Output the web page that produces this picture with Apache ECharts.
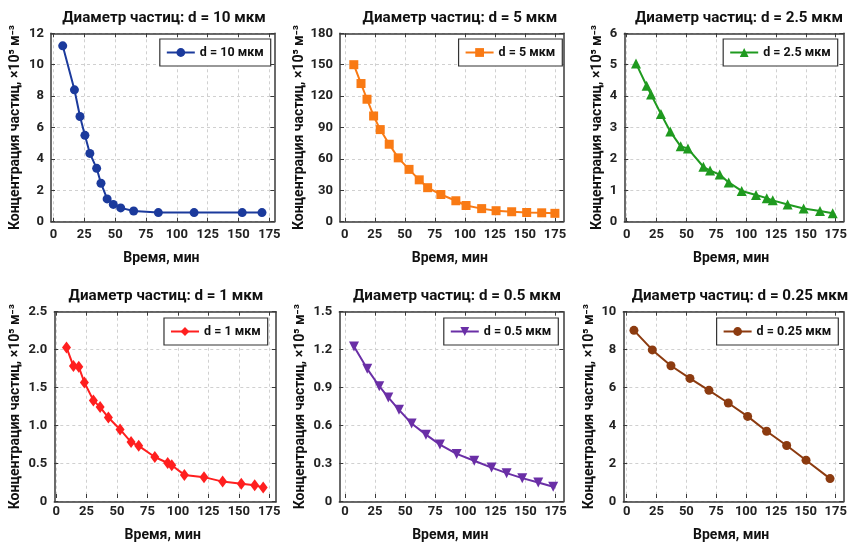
<!DOCTYPE html>
<html><head><meta charset="utf-8">
<script src="https://cdn.jsdelivr.net/npm/echarts@6/dist/echarts.min.js"></script>
<style>html,body{margin:0;padding:0;background:#fff}#c{width:851px;height:543px}</style>
</head><body><div id="c"></div>
<script>
// ---- data ----
const titles = ['Диаметр частиц: d = 10 мкм','Диаметр частиц: d = 5 мкм','Диаметр частиц: d = 2.5 мкм',
                'Диаметр частиц: d = 1 мкм','Диаметр частиц: d = 0.5 мкм','Диаметр частиц: d = 0.25 мкм'];
const seriesNames = ['d = 10 мкм','d = 5 мкм','d = 2.5 мкм','d = 1 мкм','d = 0.5 мкм','d = 0.25 мкм'];
const xAxisName = 'Время, мин';
const yAxisName = 'Концентрация частиц, ×10⁵ м⁻³';

const time10 = [7.5, 17, 21.5, 25.5, 29.5, 35, 38.5, 43.5, 48.5, 54.5, 65, 85, 114, 153, 169];
const conc10 = [11.2, 8.4, 6.7, 5.5, 4.35, 3.4, 2.45, 1.45, 1.1, 0.88, 0.68, 0.58, 0.58, 0.58, 0.58];

const time5 = [7.5, 13.5, 18.5, 24, 29.5, 37, 44.5, 53.5, 62, 69, 80, 92.5, 101, 114, 126, 139, 151.5, 164, 175];
const conc5 = [150, 132, 117, 101, 88, 74, 61, 50, 40, 32.5, 26, 20, 15.5, 12.5, 10.5, 9.5, 8.8, 8.5, 8];

const time2_5 = [7.8, 16.7, 20.4, 28.7, 36.5, 45.2, 51.3, 64.2, 69.8, 77.9, 85.4, 96.3, 108.3, 117.3, 122.3, 134.8, 148.2, 161.9, 172.5];
const conc2_5 = [5.04, 4.33, 4.05, 3.43, 2.87, 2.4, 2.33, 1.75, 1.63, 1.5, 1.25, 0.98, 0.85, 0.75, 0.68, 0.55, 0.42, 0.34, 0.27];

const time1 = [8.5, 14.2, 18.6, 23.2, 30.6, 36.1, 42.9, 52.5, 61.5, 67.8, 81, 91.6, 94.9, 105.3, 121.4, 136.7, 152, 163, 170];
const conc1 = [2.02, 1.77, 1.76, 1.55, 1.31, 1.22, 1.08, 0.92, 0.75, 0.7, 0.55, 0.47, 0.44, 0.31, 0.28, 0.22, 0.19, 0.17, 0.14];

const time0_5 = [7.5, 18.5, 28.5, 36, 44.9, 55.4, 67.3, 78.9, 92.8, 107.4, 121.8, 134.3, 147.3, 160.6, 173];
const conc0_5 = [1.22, 1.04, 0.9, 0.81, 0.71, 0.6, 0.51, 0.43, 0.355, 0.3, 0.245, 0.2, 0.16, 0.125, 0.09];

const time0_25 = [6.1, 21.5, 37.1, 53, 68.9, 85.1, 101.3, 117.2, 134, 150.2, 170.3];
const conc0_25 = [9.0, 7.95, 7.1, 6.42, 5.78, 5.1, 4.38, 3.58, 2.82, 2.03, 1.04];

const yMaxes = [12, 180, 6, 2.5, 1.5, 10];
const yIntervals = [2, 30, 1, 0.5, 0.3, 2];
const xTickMin = 0, xTickMax = 175, xInterval = 25;

// ---- layout / style ----
const times = [time10, time5, time2_5, time1, time0_5, time0_25];
const concs = [conc10, conc5, conc2_5, conc1, conc0_5, conc0_25];
const colors = ['#1b3a9c', '#f97a14', '#1f9a1f', '#ff1f1f', '#6a2fa6', '#8c3b10'];
const symbols = ['circle', 'rect', 'triangle', 'diamond', 'triangle', 'circle'];
const symbolSizes = [9, 9, 10, [9, 12], 10, 9];
const symbolRot = [0, 0, 0, 0, 180, 0];
const frames = [ // left, right, top, bottom (px)
  [51, 274.3, 33.3, 221.7], [340, 563.3, 33.3, 221.7], [624.3, 843.3, 33.3, 221.7],
  [54.3, 276, 311.7, 501.7], [339.3, 563.3, 311.7, 501.7], [623.3, 843.3, 311.7, 501.7]
];
const xRanges = [[-2, 179], [-4, 182], [-2, 181.4], [-1.5, 180.5], [-4.7, 181.4], [-2.8, 181.4]];
const titleX = [159, 455, 734, 161, 452, 735];
const titleY = [6, 6, 6, 284, 284, 284];
const legendRight = [580.3, 288.7, 13.3, 583.3, 292.7, 12.7];
const legendTop = [39, 39, 39, 318, 318, 318];
const yNameGap = [29, 32, 20, 31.5, 32, 27];

const FONT = 'Roboto';
const TXT = '#222';
const AX = '#3a3a3a';
const GRIDLINE = { show: true, lineStyle: { color: '#d0d0d0', type: [3, 3], width: 1 } };

const option = {
  animation: false,
  backgroundColor: '#fff',
  title: [], grid: [], xAxis: [], yAxis: [], series: [], legend: []
};

function yFmt(i) {
  return function (v) {
    if (i === 3 || i === 4) return v === 0 ? '0' : v.toFixed(1);
    return String(Math.round(v));
  };
}

const lineAx = { show: true, onZero: false, lineStyle: { color: AX, width: 1.5 } };
const tickIn = { show: true, inside: true, length: 4, lineStyle: { color: AX, width: 1 } };

for (let i = 0; i < 6; i++) {
  const [l, r, t, b] = frames[i];
  const [xmin, xmax] = xRanges[i];
  const scale = (r - l) / (xmax - xmin);
  const dl = l + (xTickMin - xmin) * scale;
  const dw = (xTickMax - xTickMin) * scale;

  option.title.push({
    text: titles[i], left: titleX[i], top: titleY[i], textAlign: 'center',
    textStyle: { fontFamily: FONT, fontWeight: 'bold', fontSize: 15.2, color: '#111' }
  });
  // frame grid (2i) and data grid (2i+1)
  option.grid.push({ left: l, top: t, width: r - l, height: b - t, show: false });
  option.grid.push({ left: dl, top: t, width: dw, height: b - t, show: false });

  // frame grid x axes (bottom/top lines only)
  option.xAxis.push({ type: 'value', gridIndex: 2 * i, position: 'bottom', min: 0, max: 1,
    axisLine: lineAx, axisTick: { show: false }, axisLabel: { show: false }, splitLine: { show: false } });
  option.xAxis.push({ type: 'value', gridIndex: 2 * i, position: 'top', min: 0, max: 1,
    axisLine: lineAx, axisTick: { show: false }, axisLabel: { show: false }, splitLine: { show: false } });
  // data grid x axes
  option.xAxis.push({ type: 'value', gridIndex: 2 * i + 1, position: 'bottom',
    min: xTickMin, max: xTickMax, interval: xInterval,
    axisLine: { show: false }, axisTick: tickIn,
    name: xAxisName, nameLocation: 'middle', nameGap: 30,
    nameTextStyle: { fontFamily: FONT, fontWeight: 'bold', fontSize: 14, color: '#111' },
    axisLabel: { show: true, margin: 7, fontFamily: FONT, fontWeight: 'bold', fontSize: 13, color: TXT },
    splitLine: GRIDLINE });
  option.xAxis.push({ type: 'value', gridIndex: 2 * i + 1, position: 'top',
    min: xTickMin, max: xTickMax, interval: xInterval,
    axisLine: { show: false }, axisTick: tickIn, axisLabel: { show: false }, splitLine: { show: false } });

  // frame grid y axes
  option.yAxis.push({ type: 'value', gridIndex: 2 * i, position: 'left',
    min: 0, max: yMaxes[i], interval: yIntervals[i],
    axisLine: lineAx, axisTick: tickIn,
    name: yAxisName, nameLocation: 'middle', nameGap: yNameGap[i], nameRotate: 90,
    nameTextStyle: { fontFamily: FONT, fontWeight: 'bold', fontSize: 14, color: '#111' },
    axisLabel: { show: true, margin: 7, fontFamily: FONT, fontWeight: 'bold', fontSize: 13, color: TXT, formatter: yFmt(i) },
    splitLine: GRIDLINE });
  option.yAxis.push({ type: 'value', gridIndex: 2 * i, position: 'right',
    min: 0, max: yMaxes[i], interval: yIntervals[i],
    axisLine: lineAx, axisTick: tickIn, axisLabel: { show: false }, splitLine: { show: false } });
  // data grid y axis (hidden)
  option.yAxis.push({ type: 'value', gridIndex: 2 * i + 1, min: 0, max: yMaxes[i], show: false,
    splitLine: { show: false } });

  option.series.push({
    type: 'line', name: seriesNames[i], xAxisIndex: 4 * i + 2, yAxisIndex: 3 * i + 2,
    data: times[i].map((x, k) => [x, concs[i][k]]),
    symbol: symbols[i], symbolSize: symbolSizes[i], symbolRotate: symbolRot[i],
    showAllSymbol: true, clip: false, z: 5,
    lineStyle: { color: colors[i], width: 2 },
    itemStyle: { color: colors[i] },
    emphasis: { disabled: true }
  });
  option.legend.push({
    data: [seriesNames[i]], right: legendRight[i], top: legendTop[i],
    orient: 'vertical', itemWidth: 28, itemHeight: 11, itemGap: 0,
    padding: [7, 7, 7, 6], borderColor: '#333', borderWidth: 1.2, backgroundColor: '#fff',
    borderRadius: 0, z: 10,
    textStyle: { fontFamily: FONT, fontWeight: 'bold', fontSize: 12.5, color: '#111' },
    selectedMode: false
  });
}

const chart = echarts.init(document.getElementById('c'), null, { renderer: 'canvas' });
chart.setOption(option);
</script>
</body></html>
